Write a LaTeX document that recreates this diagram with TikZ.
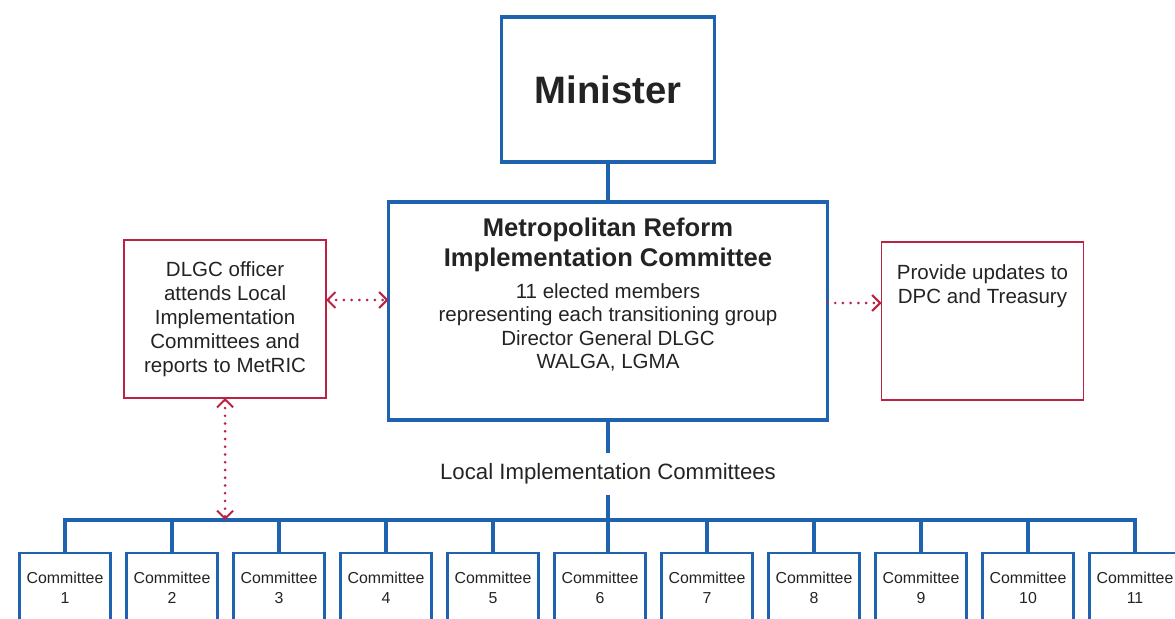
\documentclass[tikz,border=0pt]{standalone}
\usepackage{fontspec}
\setmainfont{Liberation Sans}
\usetikzlibrary{positioning,arrows.meta}

\definecolor{orgblue}{RGB}{31,98,176}
\definecolor{orgred}{RGB}{186,35,68}
\definecolor{orgink}{RGB}{35,35,35}
\tikzstyle{line} = [draw=orgblue, line width=2.4pt]
\tikzstyle{dotline} = [draw=orgred, line width=2.1pt, line cap=round, dash pattern=on 0pt off 5.5pt]

\begin{document}
\begin{tikzpicture}[
	every node/.style={text=orgink, outer sep=0pt},
	node distance=10mm and 16mm,
	>={Straight Barb[length=2mm,width=4mm,line width=1.4pt]},
	head/.style={
		rectangle,
		draw=orgblue,
		line width=2.4pt,
		minimum width=5.325cm,
		minimum height=3.625cm,
		font=\fontsize{27.2}{32}\selectfont\bfseries,
	},
	board/.style={
		rectangle,
		draw=orgblue,
		line width=2.4pt,
		minimum width=10.975cm,
		minimum height=5.45cm,
		align=center,
		font=\fontsize{14.6}{16.7}\selectfont,
	},
	note/.style={
		rectangle,
		draw=orgred,
		line width=1.1pt,
		minimum width=5.05cm,
		minimum height=3.95cm,
		align=center,
		font=\fontsize{14.6}{17}\selectfont,
	},
	committee/.style={
		rectangle,
		draw=orgblue,
		line width=2pt,
		minimum width=2.275cm,
		minimum height=1.75cm,
		inner sep=1pt,
		align=center,
		font=\fontsize{11.3}{14.2}\selectfont,
	},
	caption/.style={
		minimum height=1.05cm,
		inner sep=0pt,
		font=\fontsize{15.8}{18}\selectfont,
	}
]
	\useasboundingbox (0,0) rectangle (29.375,-15.475);

	\node (minister) [head] at (15.2,-2.2375) {Minister};
	\node (metric) [board,below=of minister]
		{\fontsize{18.2}{20}\selectfont\bfseries Metropolitan Reform \\[3.2pt]
		 \fontsize{18.2}{20}\selectfont\bfseries Implementation Committee \\[6pt]
		 11 elected members \\
		 representing each transitioning group \\
		 Director General DLGC \\
		 WALGA, LGMA\rule[-0.87cm]{0pt}{0.87cm}};
	\node (dlgc) [note,left=1.56cm of metric,yshift=-0.2cm]
		{DLGC officer \\attends Local \\Implementation \\Committees and \\reports to MetRIC};
	\node (updates) [note,right=1.35cm of metric,yshift=-0.25cm]
		{Provide updates to \\DPC and Treasury\rule[-1.83cm]{0pt}{1.83cm}};
	\node (lic) [caption,below=0.825cm of metric]
		{Local Implementation Committees};
	\coordinate [below=0.625cm of lic] (bus);

	\node (c6) [committee,below=1.45cm of lic,xshift=-0.2cm] {Committee \\6};
	\node (c5) [committee,left=4mm of c6] {Committee \\5};
	\node (c4) [committee,left=4mm of c5] {Committee \\4};
	\node (c3) [committee,left=4mm of c4] {Committee \\3};
	\node (c2) [committee,left=4mm of c3] {Committee \\2};
	\node (c1) [committee,left=4mm of c2] {Committee \\1};
	\node (c7) [committee,right=4mm of c6] {Committee \\7};
	\node (c8) [committee,right=4mm of c7] {Committee \\8};
	\node (c9) [committee,right=4mm of c8] {Committee \\9};
	\node (c10) [committee,right=4mm of c9] {Committee \\10};
	\node (c11) [committee,right=4mm of c10] {Committee \\11};

	\draw [line] (minister) -- (metric);
	\draw [line] (metric) -- (lic);
	\draw [line] (lic) -- (lic |- c6.north);
	\draw [line] (bus) -| (c1);
	\draw [line] (bus) -| (c2);
	\draw [line] (bus) -| (c3);
	\draw [line] (bus) -| (c4);
	\draw [line] (bus) -| (c5);
	\draw [line] (bus) -| (c7);
	\draw [line] (bus) -| (c8);
	\draw [line] (bus) -| (c9);
	\draw [line] (bus) -| (c10);
	\draw [line] (bus) -| (c11);

	\draw [dotline,<->] ([yshift=0.475cm]dlgc.east) -- ([yshift=0.275cm]metric.west);
	\draw [dotline,->] ([yshift=0.2cm]metric.east) -- ([yshift=0.45cm]updates.west);
	\draw [dotline,<->] (dlgc) -- (dlgc |- bus);

\end{tikzpicture}
\end{document}
